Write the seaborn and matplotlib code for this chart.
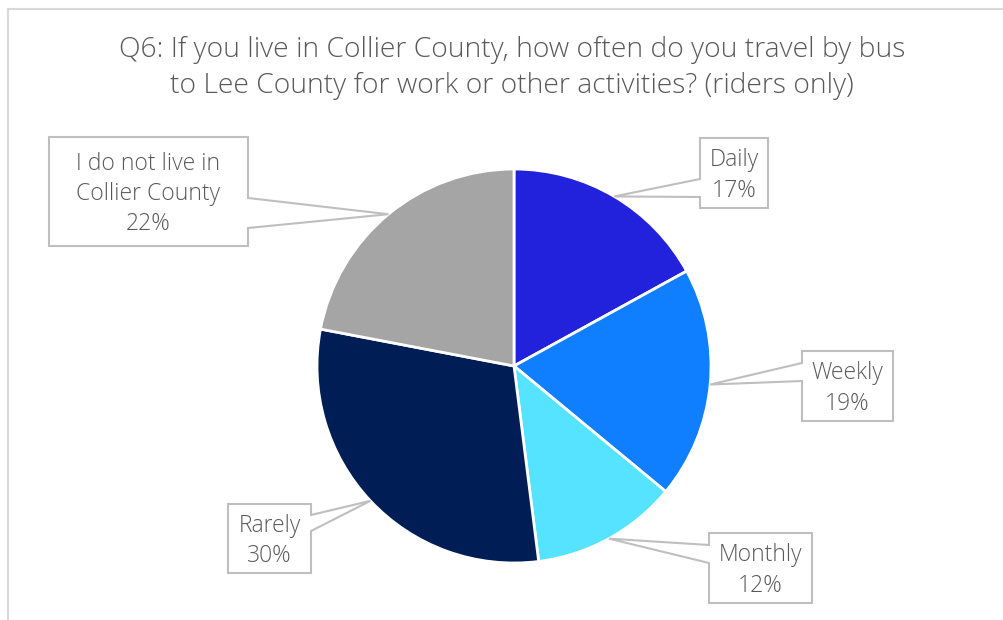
import numpy as np
import matplotlib
matplotlib.use("Agg")
import matplotlib.pyplot as plt
from matplotlib.patches import Polygon
import seaborn as sns

# ---- data ----
categories = ["Daily", "Weekly", "Monthly", "Rarely", "I do not live in\nCollier County"]
percent = [17, 19, 12, 30, 22]
colors = ["#2222DD", "#0F7FFF", "#55E3FF", "#001E55", "#A5A5A5"]
title = "Q6: If you live in Collier County, how often do you travel by bus\nto Lee County for work or other activities? (riders only)"

# ---- layout (image pixel coords, y from top) ----
W, H = 1004, 620
# callout boxes: (x0, x1, top, bottom, wedge side, wedge top y, wedge bottom y)
boxes = [
    (700, 768, 138, 208, "left", 179, 197),
    (802, 893, 351, 421, "left", 363, 381),
    (709, 812, 533, 603, "left", 545, 563),
    (228, 311, 504, 573, "right", 515, 531),
    (49, 248, 137, 246, "right", 198, 228),
]

sns.set_theme(style="white")
plt.rcParams["font.family"] = ["Open Sans", "DejaVu Sans"]

fig = plt.figure(figsize=(W / 100, H / 100), dpi=100)
fig.patch.set_facecolor("white")

cx, cy, r = 514, 366, 197
ax = fig.add_axes([(cx - r) / W, (H - cy - r) / H, 2 * r / W, 2 * r / H])
wedges, _ = ax.pie(percent, colors=colors, startangle=90, counterclock=False,
                   wedgeprops=dict(edgecolor="white", linewidth=2))
ax.set_xlim(-1, 1)
ax.set_ylim(-1, 1)
ax.set_aspect("equal")
ax.axis("off")

# frame border (top and left visible)
fig.add_artist(plt.Line2D([8 / W, 1], [1 - 8.5 / H, 1 - 8.5 / H], transform=fig.transFigure,
                          color="#D9D9D9", lw=1.5))
fig.add_artist(plt.Line2D([8 / W, 8 / W], [0, 1 - 8.5 / H], transform=fig.transFigure,
                          color="#D9D9D9", lw=1.5))

fig.text(512 / W, 1 - 67.5 / H, title, ha="center", va="center", fontsize=20.3,
         color="#595959", fontweight="light", linespacing=1.38)

def to_fig(x, y):
    return (x / W, 1 - y / H)

fig.canvas.draw()
cum = np.cumsum([0] + percent)
for i, (lab, p) in enumerate(zip(categories, percent)):
    mid = 90 - (cum[i] + p / 2) / 100 * 360
    th = np.deg2rad(mid)
    disp = ax.transData.transform((np.cos(th), np.sin(th)))
    tip = (disp[0] / W, disp[1] / H)
    x0, x1, top, bot, side, wt, wb = boxes[i]
    if side == "left":
        pts = [to_fig(x0, top), to_fig(x1, top), to_fig(x1, bot), to_fig(x0, bot),
               to_fig(x0, wb), tip, to_fig(x0, wt)]
    else:
        pts = [to_fig(x0, top), to_fig(x1, top), to_fig(x1, wt), tip,
               to_fig(x1, wb), to_fig(x1, bot), to_fig(x0, bot)]
    poly = Polygon(pts, closed=True, transform=fig.transFigure, facecolor="white",
                   edgecolor="#BFBFBF", lw=1.5, zorder=5)
    fig.add_artist(poly)
    fig.text((x0 + x1) / 2 / W, 1 - (top + bot) / 2 / H - 2.5 / H, f"{lab}\n{p}%",
             ha="center", va="center", fontsize=16.5, color="#595959",
             fontweight="light", linespacing=1.36, zorder=6)

fig.savefig("out.png", dpi=100, facecolor="white")
